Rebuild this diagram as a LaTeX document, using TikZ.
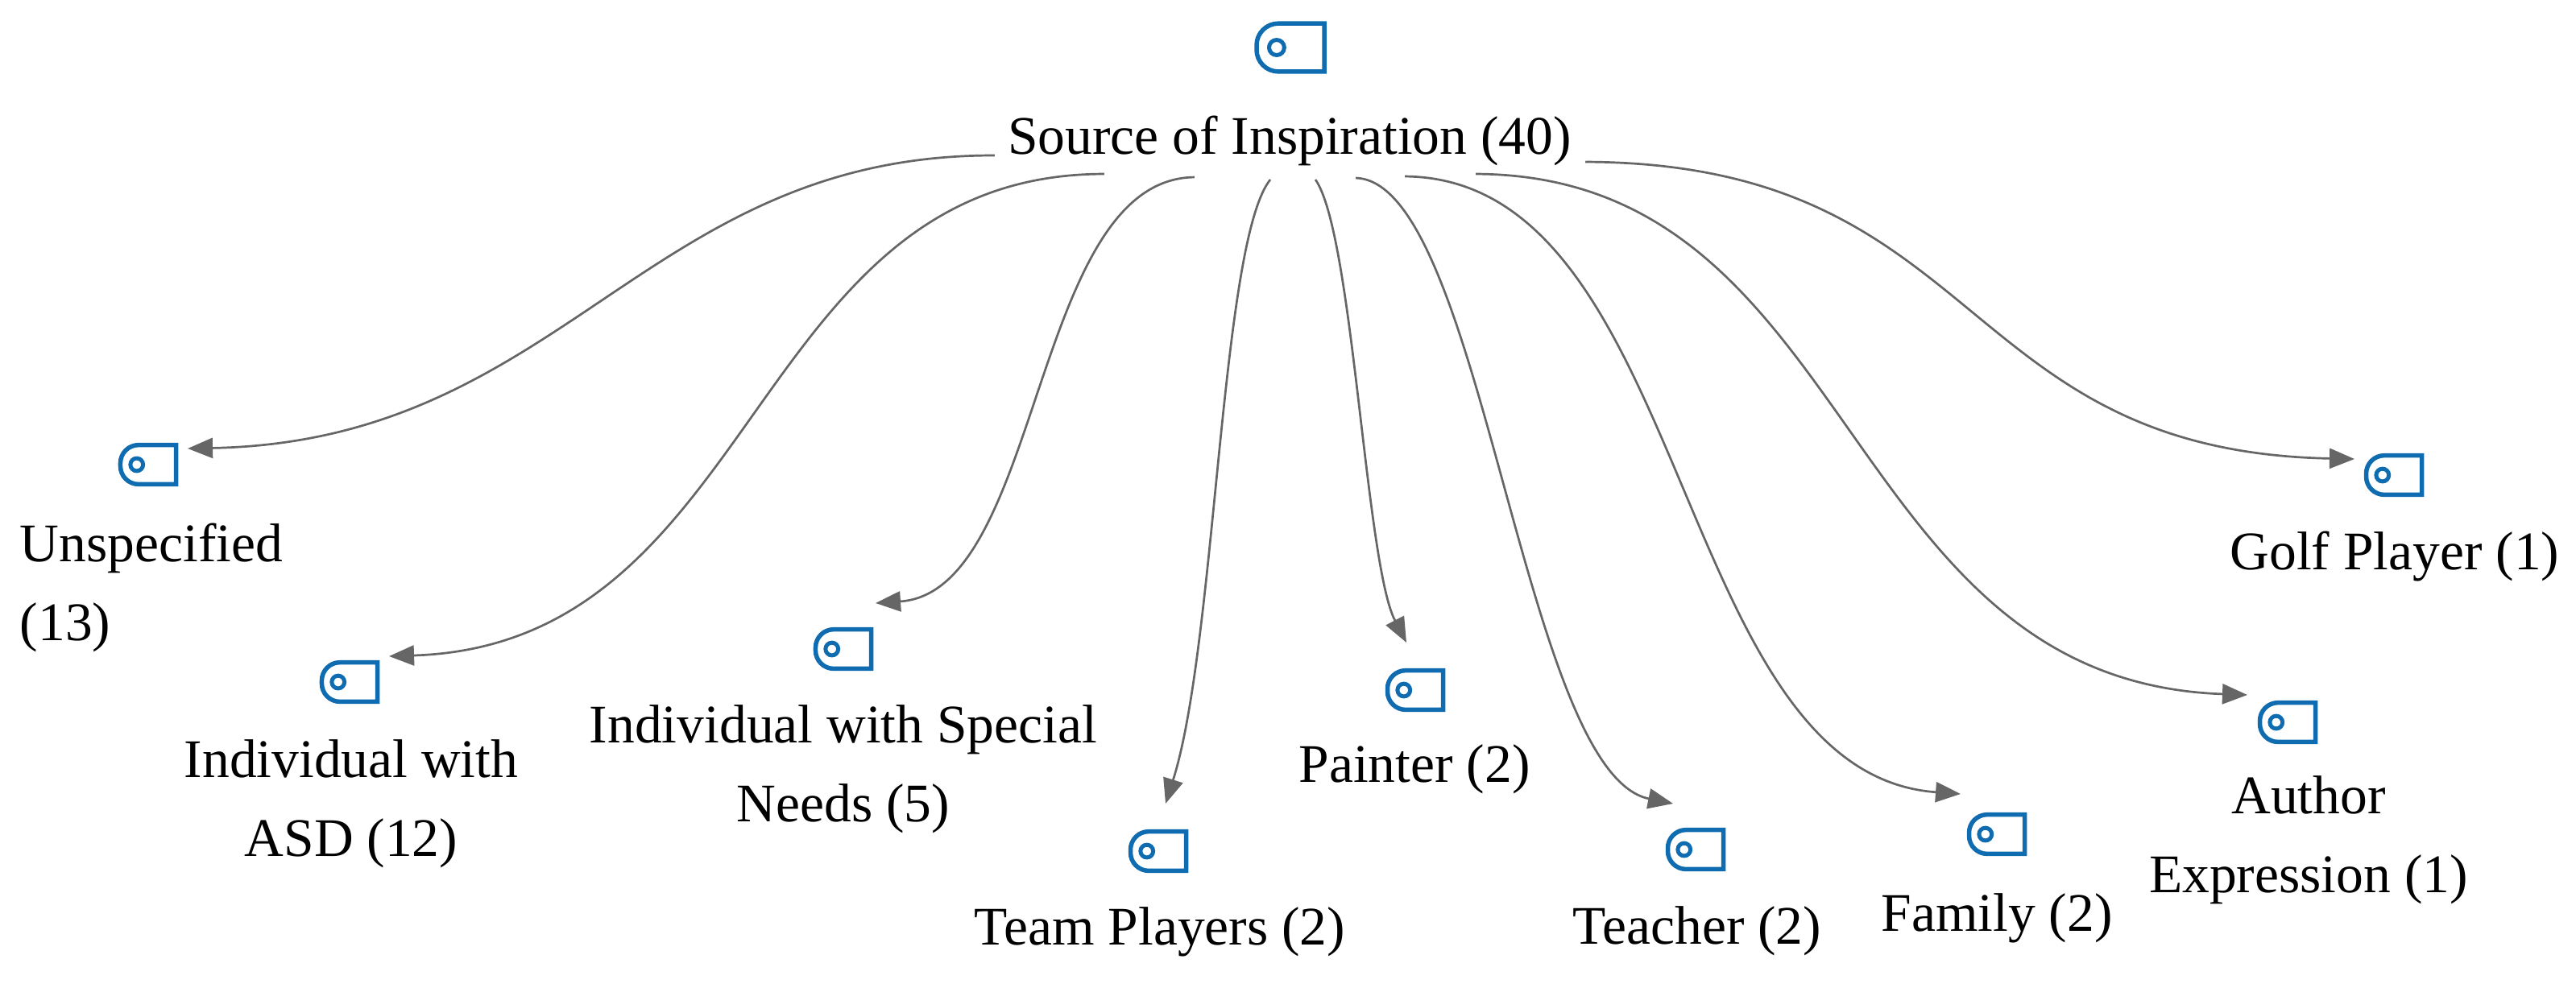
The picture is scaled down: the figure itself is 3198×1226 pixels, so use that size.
\documentclass[tikz,border=0pt]{standalone}
\usepackage{fontspec}
\setmainfont{Liberation Serif}
\usetikzlibrary{arrows.meta,calc}
\definecolor{iconblue}{HTML}{0F6CB0}
\definecolor{linkgray}{HTML}{666666}
\begin{document}
\begin{tikzpicture}[
    x=0.01cm, y=-0.01cm,
    tagicon/.style={rectangle, inner sep=0pt, minimum width=#1, minimum height=0.73*#1,
        path picture={
            \draw [iconblue, line width=0.055cm]
                ([shift={(-0.03cm,-0.03cm)}]path picture bounding box.north east)
                [rounded corners=0.3*#1] -- ([shift={(0.03cm,-0.03cm)}]path picture bounding box.north west)
                -- ([shift={(0.03cm,0.03cm)}]path picture bounding box.south west)
                [sharp corners] -- ([shift={(-0.03cm,0.03cm)}]path picture bounding box.south east) -- cycle;
            \draw [iconblue, line width=0.05cm]
                ($(path picture bounding box.west)!0.31!(path picture bounding box.east)$) circle [radius=0.105*#1];
        }},
    label/.style={font=\fontsize{19.2}{28}\selectfont, inner sep=0pt, text=black},
    line/.style={draw=linkgray, line width=0.027cm, -{Triangle[length=0.31cm, width=0.25cm]}}
]
    \useasboundingbox (0,0) rectangle (3198,1226);

    \node [tagicon=0.9cm] (sourceicon) at (1602,59) {};
    \node [label] (source) at (1601,175) {Source of Inspiration (40)};

    \node [tagicon=0.75cm] (unspecicon) at (184,577) {};
    \node [label, align=left] (unspec) at (188,730) {Unspecified\\(13)};

    \node [tagicon=0.75cm] (asdicon) at (434,847) {};
    \node [label, align=center] (asd) at (436,998) {Individual with\\ASD (12)};

    \node [tagicon=0.75cm] (specialicon) at (1047,806) {};
    \node [label, align=center] (special) at (1047,955) {Individual with Special\\Needs (5)};

    \node [tagicon=0.75cm] (teamicon) at (1438,1057) {};
    \node [label] (team) at (1440,1157) {Team Players (2)};

    \node [tagicon=0.75cm] (paintericon) at (1757,857) {};
    \node [label] (painter) at (1756,955) {Painter (2)};

    \node [tagicon=0.75cm] (teachericon) at (2105,1055) {};
    \node [label] (teacher) at (2107,1156) {Teacher (2)};

    \node [tagicon=0.75cm] (familyicon) at (2479,1036) {};
    \node [label] (family) at (2479,1140) {Family (2)};

    \node [tagicon=0.75cm] (authoricon) at (2840,897) {};
    \node [label, align=center] (author) at (2866,1043) {Author\\Expression (1)};

    \node [tagicon=0.75cm] (golficon) at (2972,590) {};
    \node [label] (golf) at (2973,691) {Golf Player (1)};

    \draw [line] ([shift={(-3.66cm,-0.18cm)}]source.center) .. controls (800,192) and (700,548) .. ([shift={(0.49cm,0.2cm)}]unspecicon.center);
    \draw [line] ([shift={(-2.3cm,-0.41cm)}]source.center) .. controls (928,216) and (947,800) .. ([shift={(0.49cm,0.32cm)}]asdicon.center);
    \draw [line] ([shift={(-1.18cm,-0.45cm)}]source.center) .. controls (1280,222) and (1295,735) .. ([shift={(0.4cm,0.57cm)}]specialicon.center);
    \draw [line] ([shift={(-0.24cm,-0.48cm)}]source.center) .. controls (1515,300) and (1510,800) .. ([shift={(0.09cm,0.59cm)}]teamicon.center);
    \draw [line] ([shift={(0.32cm,-0.48cm)}]source.center) .. controls (1680,290) and (1695,700) .. ([shift={(-0.11cm,0.59cm)}]paintericon.center);
    \draw [line] ([shift={(0.82cm,-0.46cm)}]source.center) .. controls (1840,225) and (1890,960) .. ([shift={(-0.28cm,0.57cm)}]teachericon.center);
    \draw [line] ([shift={(1.43cm,-0.44cm)}]source.center) .. controls (2100,222) and (2075,960) .. ([shift={(-0.45cm,0.5cm)}]familyicon.center);
    \draw [line] ([shift={(2.31cm,-0.41cm)}]source.center) .. controls (2310,218) and (2280,845) .. ([shift={(-0.5cm,0.34cm)}]authoricon.center);
    \draw [line] ([shift={(3.67cm,-0.26cm)}]source.center) .. controls (2467,203) and (2425,560) .. ([shift={(-0.49cm,0.2cm)}]golficon.center);
\end{tikzpicture}
\end{document}
